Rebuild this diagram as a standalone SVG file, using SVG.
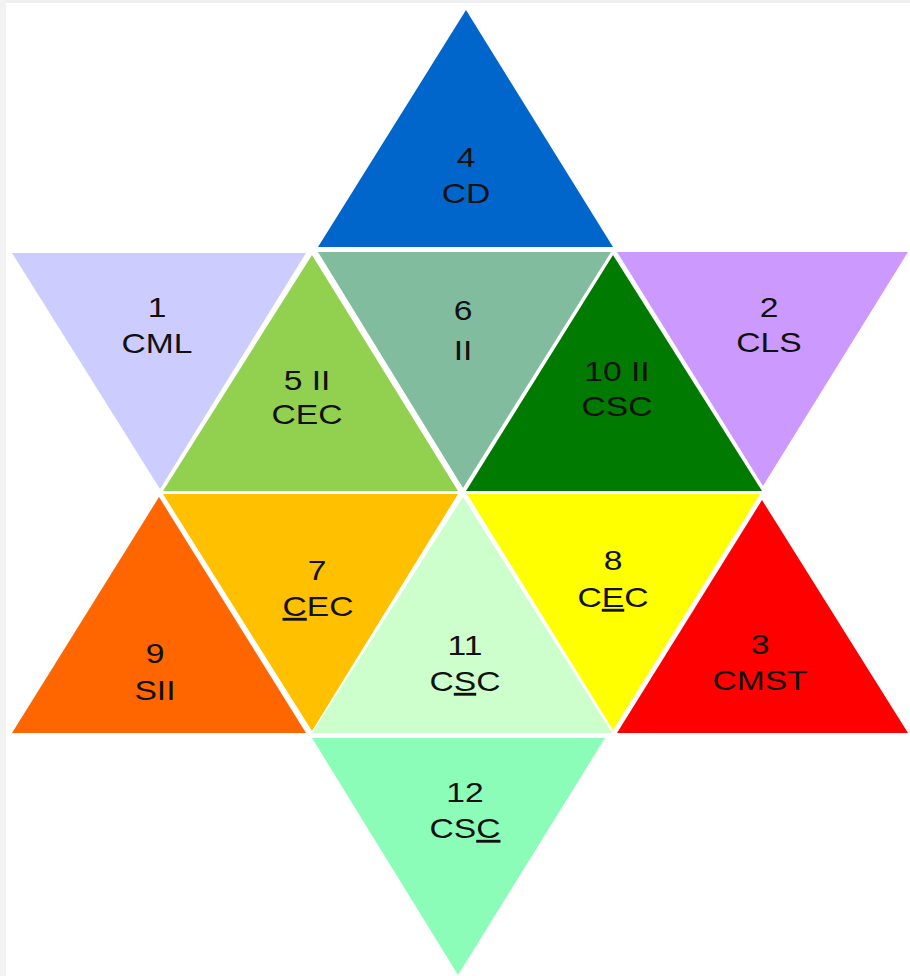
<svg xmlns="http://www.w3.org/2000/svg" width="910" height="976" viewBox="0 0 910 976">
<style>
text{font-family:"Liberation Sans",Arial,sans-serif;font-size:28.5px;fill:#111;text-anchor:middle}
.u{text-decoration:underline}
</style>
<rect x="0" y="0" width="910" height="976" fill="#ffffff"/>
<rect x="0" y="0" width="910" height="3" fill="#efefef"/>
<rect x="0" y="0" width="6" height="976" fill="#f2f2f2"/>
<g id="n4"><polygon points="466,10 318,247 613,247" fill="#0066cc"/><text transform="translate(466,167) scale(1.18,1)">4</text><text transform="translate(466,203) scale(1.18,1)">CD</text></g>
<g id="n1"><polygon points="12,253 306,253 160,489" fill="#ccccff"/><text transform="translate(157,317) scale(1.18,1)">1</text><text transform="translate(157,353) scale(1.18,1)">CML</text></g>
<g id="n5"><polygon points="312,255 163,491 458,491" fill="#92d050"/><text transform="translate(307,390) scale(1.18,1)">5 II</text><text transform="translate(307,424) scale(1.18,1)">CEC</text></g>
<g id="n6"><polygon points="318,252 611,252 463,488" fill="#82bc9f"/><text transform="translate(463,320) scale(1.18,1)">6</text><text transform="translate(463,360) scale(1.18,1)">II</text></g>
<g id="n10"><polygon points="613,255 466,491 762,491" fill="#007a00"/><text transform="translate(617,381) scale(1.18,1)">10 II</text><text transform="translate(617,416) scale(1.18,1)">CSC</text></g>
<g id="n2"><polygon points="617,252 908,252 763,486" fill="#cc99ff"/><text transform="translate(769,317) scale(1.18,1)">2</text><text transform="translate(769,352) scale(1.18,1)">CLS</text></g>
<g id="n9"><polygon points="159,497 12,733 306,733" fill="#ff6600"/><text transform="translate(155,663) scale(1.18,1)">9</text><text transform="translate(155,700) scale(1.18,1)">SII</text></g>
<g id="n7"><polygon points="163,494 458,494 312,731" fill="#ffc000"/><text transform="translate(317,580) scale(1.18,1)">7</text><text transform="translate(318,616) scale(1.18,1)"><tspan class="u">C</tspan>EC</text></g>
<g id="n11"><polygon points="463,497 312,733 612,733" fill="#ccffcc"/><text transform="translate(465,655) scale(1.18,1)">11</text><text transform="translate(465,691) scale(1.18,1)">C<tspan class="u">S</tspan>C</text></g>
<g id="n8"><polygon points="467,494 760,494 613,730" fill="#ffff00"/><text transform="translate(613,570) scale(1.18,1)">8</text><text transform="translate(613,607) scale(1.18,1)">C<tspan class="u">E</tspan>C</text></g>
<g id="n3"><polygon points="762,500 617,733 908,733" fill="#ff0000"/><text transform="translate(760,654) scale(1.18,1)">3</text><text transform="translate(760,690) scale(1.18,1)">CMST</text></g>
<g id="n12"><polygon points="312,738 605,738 458,975" fill="#8cfdb8"/><text transform="translate(465,802) scale(1.18,1)">12</text><text transform="translate(465,838) scale(1.18,1)">CS<tspan class="u">C</tspan></text></g>
</svg>
